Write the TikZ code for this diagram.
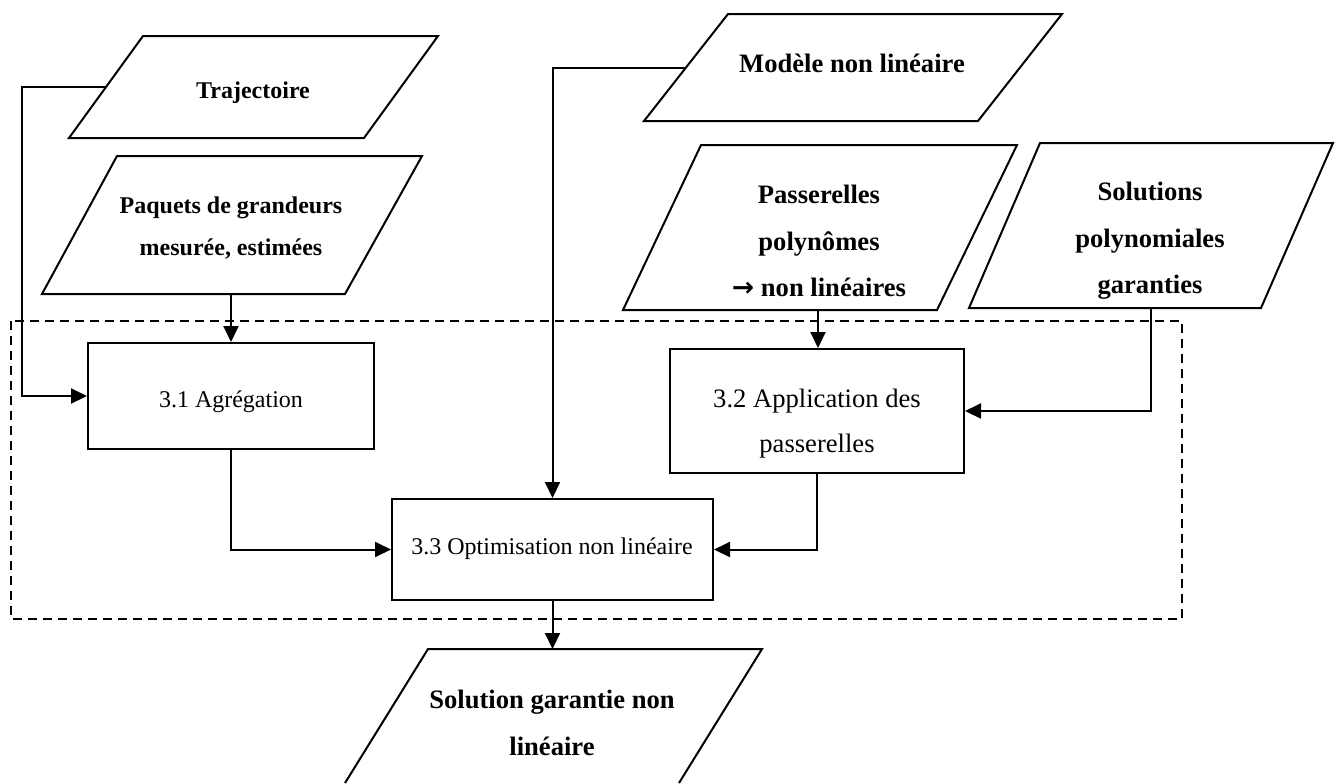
\documentclass[tikz,border=0pt]{standalone}
\usepackage{fontspec}
\setmainfont{Liberation Serif}
\newfontfamily\arrowfont{DejaVu Sans}
\usetikzlibrary{arrows.meta}
\begin{document}
\begin{tikzpicture}[x=0.5pt, y=-0.5pt, line width=1pt,
  arr/.style={-{Triangle[length=8pt,width=7.5pt]}},
  box/.style={draw, rectangle, inner sep=0pt},
  para/.style={draw, line join=miter},
  ptext/.style={font=\fontsize{12}{21}\selectfont\bfseries, align=center, inner sep=0pt},
  pbig/.style={font=\fontsize{13.3}{23.3}\selectfont\bfseries, align=center, inner sep=0pt},
  btext/.style={font=\fontsize{12}{22.5}\selectfont, align=center, inner sep=0pt},
  bbig/.style={font=\fontsize{13.3}{22.5}\selectfont, align=center, inner sep=0pt},
  grp/.style={dash pattern=on 4.5pt off 3pt}]

\useasboundingbox (0,0) rectangle (1339,783);

% dashed frame around step 3
\draw[grp] (11,321) rectangle (1182,619);

% ---- input data (parallelograms) ----
\draw[para] (143,36) -- (438,36) -- (364,138) -- (69,138) -- cycle;
\node[ptext] (traj) at (253,93) {Trajectoire};
\coordinate (trajL) at (106,87);

\draw[para] (117,156) -- (422,156) -- (345,294) -- (42,294) -- cycle;
\node[ptext] (paq) at (231,228)
  {Paquets de grandeurs\\mesurée, estimées};
\coordinate (paqB) at (231,294);

\draw[para] (728,14) -- (1062,14) -- (978,121) -- (644,121) -- cycle;
\node[pbig] (mod) at (852,63) {Modèle non linéaire};
\coordinate (modL) at (686,68);

\draw[para] (701,145) -- (1017,145) -- (937,310) -- (623,310) -- cycle;
\node[pbig] (pas) at (819,241)
  {Passerelles\\polynômes\\{\arrowfont\bfseries →} non linéaires};
\coordinate (pasB) at (818,310);

\draw[para] (1040,143) -- (1333,143) -- (1261,308) -- (969,308) -- cycle;
\node[pbig] (sol) at (1150,241)
  {Solutions\\polynomiales\\garanties};
\coordinate (solB) at (1151,308);

% ---- processing steps ----
\node[box, minimum width=143pt, minimum height=53pt] (b31) at (231,396) {};
\node[btext] (t31) at (231,402) {3.1 Agrégation};

\node[box, minimum width=147pt, minimum height=62pt] (b32) at (817,411) {};
\node[bbig] (t32) at (817,424) {3.2 Application des\\passerelles};

\node[box, minimum width=160.5pt, minimum height=50.5pt] (b33) at (552.5,549.5) {};
\node[btext] (t33) at (552,549) {3.3 Optimisation non linéaire};

% ---- output ----
\draw[para] (345,783) -- (428,649) -- (762,649) -- (679,783);
\coordinate (outT) at (552.5,649);
\node[pbig] (out) at (552,723) {Solution garantie non\\linéaire};

% ---- connectors ----
\draw[arr] (trajL) -- ++(-84,0) |- (b31.west);
\draw[arr] (paqB) -- (b31.north);
\draw[arr] (modL) -| (b33.north);
\draw[arr] (pasB) -- (pasB |- b32.north);
\draw[arr] (solB) |- (b32.east);
\draw[arr] (b31.south) |- (b33.west);
\draw[arr] (b32.south) |- (b33.east);
\draw[arr] (b33.south) -- (outT);
\end{tikzpicture}
\end{document}
